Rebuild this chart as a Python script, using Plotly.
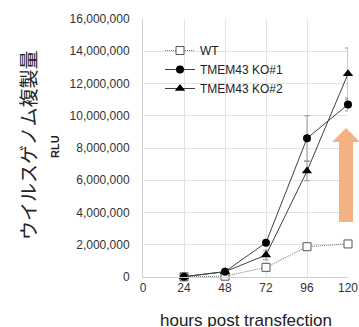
import plotly.graph_objects as go

hours = [24, 48, 72, 96, 120]
wt = [10000, 50000, 600000, 1880000, 2050000]
ko1 = [20000, 330000, 2130000, 8600000, 10700000]
ko1_err = [0, 0, 0, 1400000, 400000]
ko2 = [20000, 330000, 1360000, 6570000, 12600000]
ko2_err = [0, 0, 300000, 600000, 1600000]
x_ticks = [0, 24, 48, 72, 96, 120]
y_ticks = [0, 2000000, 4000000, 6000000, 8000000, 10000000, 12000000, 14000000, 16000000]

fig = go.Figure()
err_style = dict(type="data", color="#999999", thickness=1, width=3)
fig.add_trace(go.Scatter(
    x=hours, y=wt, name="WT", mode="lines+markers",
    line=dict(color="#777777", width=1, dash="1px,1px"),
    marker=dict(symbol="square", size=8, color="white", line=dict(color="#555555", width=1)),
    cliponaxis=False,
))
fig.add_trace(go.Scatter(
    x=hours, y=ko1, name="TMEM43 KO#1", mode="lines+markers",
    line=dict(color="#404040", width=1),
    marker=dict(symbol="circle", size=8, color="black"),
    error_y=dict(array=ko1_err, **err_style),
    cliponaxis=False,
))
fig.add_trace(go.Scatter(
    x=hours, y=ko2, name="TMEM43 KO#2", mode="lines+markers",
    line=dict(color="#404040", width=1),
    marker=dict(symbol="triangle-up", size=9, color="black"),
    error_y=dict(array=ko2_err, **err_style),
    cliponaxis=False,
))

W, H = 359, 327
PL, PR, PT, PB = 143, 348, 19, 277  # plot area in page pixels
L, R, T, B = PL, W - PR, PT, H - PB
pw = PR - PL
ph = PB - PT

def px(x):
    return (x - PL) / pw

def py(y):
    return (PB - y) / ph

# orange up arrow (decoration)
fig.add_shape(
    type="path", xref="paper", yref="paper",
    path=("M {a},{yb} L {b},{yb} L {b},{yh} L {c},{yh} L {m},{yt} L {d},{yh} L {e},{yh} Z").format(
        a=px(339), b=px(353), c=px(360), m=px(346), d=px(332), e=px(339),
        yb=py(222), yh=py(142), yt=py(128)),
    fillcolor="#F4B183", line=dict(width=0), layer="above",
)

fig.add_annotation(
    text="ウイルスゲノム複製量", xref="paper", yref="paper",
    x=px(27), y=py(146), xanchor="center", yanchor="middle", textangle=-90, showarrow=False,
    font=dict(family="Noto Sans CJK JP", size=19, color="#222222"),
)
fig.add_annotation(
    text="<b>RLU</b>", xref="paper", yref="paper",
    x=px(55), y=py(147), xanchor="center", yanchor="middle", textangle=-90, showarrow=False,
    font=dict(family="Liberation Sans", size=11, color="#222222"),
)
fig.add_annotation(
    text="hours post transfection", xref="paper", yref="paper",
    x=px(246), y=py(320), xanchor="center", yanchor="middle", showarrow=False,
    font=dict(family="Liberation Sans, Arial", size=17, color="#222222"),
)

fig.update_layout(
    width=W, height=H,
    margin=dict(l=L, r=R, t=T, b=B, autoexpand=False),
    plot_bgcolor="white", paper_bgcolor="white",
    font=dict(family="Liberation Sans, Arial", size=12, color="#333333"),
    showlegend=True,
    legend=dict(x=px(160), y=py(36), xanchor="left", yanchor="top",
                bgcolor="rgba(255,255,255,0)", font=dict(size=12, color="#222222"),
                tracegroupgap=0),
    xaxis=dict(range=[0, 120], tickvals=x_ticks, showgrid=True, gridcolor="#e3e3e3",
               zeroline=False, showline=True, linecolor="#d0d0d0", ticks=""),
    yaxis=dict(range=[0, 16000000], tickvals=y_ticks, tickformat=",d", showgrid=True,
               gridcolor="#e3e3e3", zeroline=False, showline=True, linecolor="#d0d0d0", ticks="",
               ticklabelstandoff=10),
)

fig.write_html("out.html", config={"displayModeBar": False},
               post_script="document.body.style.margin='0';document.body.style.overflow='hidden';")
